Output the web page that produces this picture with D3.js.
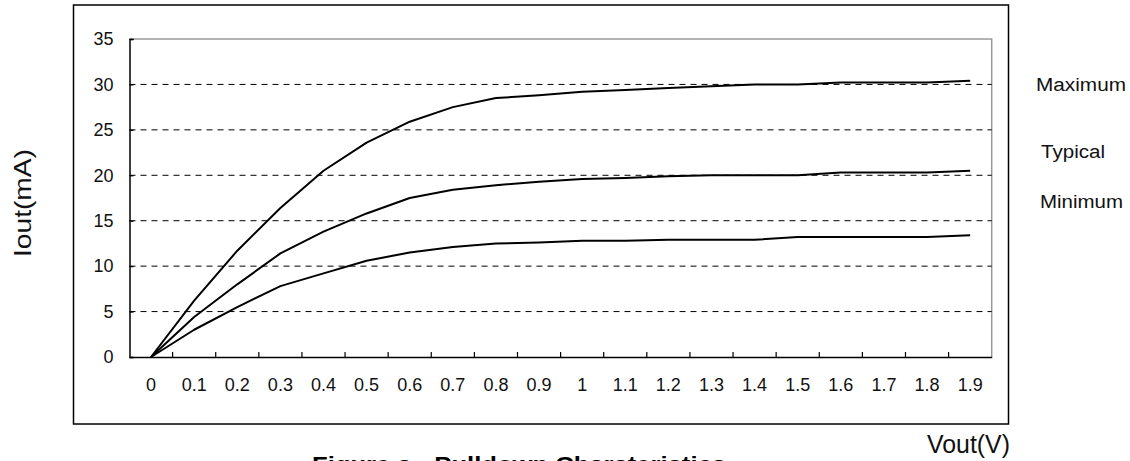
<!DOCTYPE html>
<html>
<head>
<meta charset="utf-8">
<script src="https://cdn.jsdelivr.net/npm/d3@7"></script>
<style>
  body { margin: 0; background: #fff; }
  svg { display: block; font-family: "Liberation Sans", Arial, sans-serif; }
</style>
</head>
<body>
<svg width="1130" height="461"></svg>
<script>
// Data
var vout = ["0", "0.1", "0.2", "0.3", "0.4", "0.5", "0.6", "0.7", "0.8", "0.9",
            "1", "1.1", "1.2", "1.3", "1.4", "1.5", "1.6", "1.7", "1.8", "1.9"];
var iMax = [0, 6.2, 11.7, 16.4, 20.5, 23.6, 25.9, 27.5, 28.5, 28.8,
            29.2, 29.4, 29.6, 29.8, 30.0, 30.0, 30.2, 30.2, 30.2, 30.4];
var iTyp = [0, 4.4, 8.0, 11.4, 13.8, 15.8, 17.5, 18.4, 18.9, 19.3,
            19.6, 19.7, 19.9, 20.0, 20.0, 20.0, 20.3, 20.3, 20.3, 20.5];
var iMin = [0, 3.0, 5.5, 7.8, 9.2, 10.6, 11.5, 12.1, 12.5, 12.6,
            12.8, 12.8, 12.9, 12.9, 12.9, 13.2, 13.2, 13.2, 13.2, 13.4];
var yTicks = [0, 5, 10, 15, 20, 25, 30, 35];
var seriesNames = ["Maximum", "Typical", "Minimum"];

var svg = d3.select("svg");

// plot area (don't call it "top", window.top is read-only)
var pLeft = 129.5, pRight = 991.7, pTop = 39, pBottom = 357;

var x = d3.scaleBand().domain(vout).range([pLeft, pRight]).padding(0);
var y = d3.scaleLinear().domain([0, 35]).range([pBottom, pTop]);

// outer frame
svg.append("rect")
    .attr("x", 73.5).attr("y", 5)
    .attr("width", 935).attr("height", 419)
    .attr("fill", "none")
    .attr("stroke", "#000")
    .attr("stroke-width", 1.5);

// top / right edges of plot area, grey
svg.append("path")
    .attr("d", `M${pLeft},${pTop}H${pRight}V${pBottom}`)
    .attr("fill", "none")
    .attr("stroke", "#999")
    .attr("stroke-width", 1.5);

// dashed gridlines
svg.append("g")
    .selectAll("line")
    .data(yTicks.filter(d => d > 0 && d < 35))
    .join("line")
        .attr("x1", pLeft).attr("x2", pRight)
        .attr("y1", d => y(d)).attr("y2", d => y(d))
        .attr("stroke", "#000")
        .attr("stroke-width", 1)
        .attr("stroke-dasharray", "6,5");

// y axis
var yAxis = svg.append("g")
    .attr("transform", `translate(${pLeft},0)`)
    .call(d3.axisLeft(y).tickValues(yTicks).tickSize(-4).tickPadding(16));
yAxis.select(".domain").attr("stroke", "#000").attr("stroke-width", 1.5);
yAxis.selectAll(".tick line").attr("stroke", "#000").attr("stroke-width", 1.2);
yAxis.selectAll(".tick text")
    .attr("font-size", 18)
    .attr("font-family", "Liberation Sans, Arial, sans-serif")
    .attr("fill", "#111");

// x axis: labels at band centres
var xAxis = svg.append("g")
    .attr("transform", `translate(0,${pBottom})`)
    .call(d3.axisBottom(x).tickSize(0).tickPadding(21));
xAxis.select(".domain").attr("stroke", "#000").attr("stroke-width", 1.5);
xAxis.selectAll(".tick text")
    .attr("font-size", 18)
    .attr("font-family", "Liberation Sans, Arial, sans-serif")
    .attr("fill", "#111");

// x tick marks at band boundaries, pointing up
svg.append("g")
    .selectAll("line")
    .data(vout.slice(1))
    .join("line")
        .attr("x1", d => x(d)).attr("x2", d => x(d))
        .attr("y1", pBottom).attr("y2", pBottom - 5)
        .attr("stroke", "#000")
        .attr("stroke-width", 1.2);

// curves
var line = d3.line()
    .x((d, i) => x(vout[i]) + x.bandwidth() / 2)
    .y(d => y(d));

svg.append("g")
    .selectAll("path")
    .data([iMax, iTyp, iMin])
    .join("path")
        .attr("d", line)
        .attr("fill", "none")
        .attr("stroke", "#000")
        .attr("stroke-width", 2)
        .attr("stroke-linejoin", "round");

// series labels on the right
var labelY = [91, 158, 208];
var labelX = [1036, 1041, 1040];
var labelW = [90, 64, 83];
svg.append("g")
    .selectAll("text")
    .data(seriesNames)
    .join("text")
        .attr("x", (d, i) => labelX[i])
        .attr("y", (d, i) => labelY[i])
        .attr("font-size", 18)
        .attr("textLength", (d, i) => labelW[i])
        .attr("lengthAdjust", "spacingAndGlyphs")
        .attr("fill", "#111")
        .text(d => d);

// axis titles
svg.append("text")
    .attr("transform", "translate(31,203) rotate(-90)")
    .attr("text-anchor", "middle")
    .attr("font-size", 24)
    .attr("textLength", 108)
    .attr("lengthAdjust", "spacingAndGlyphs")
    .attr("fill", "#111")
    .text("Iout(mA)");

svg.append("text")
    .attr("x", 927).attr("y", 453)
    .attr("font-size", 25)
    .attr("textLength", 83)
    .attr("lengthAdjust", "spacingAndGlyphs")
    .attr("fill", "#111")
    .text("Vout(V)");

// figure caption (cut off by the bottom edge)
svg.append("text")
    .attr("x", 312).attr("y", 472)
    .attr("font-size", 22)
    .attr("font-weight", "bold")
    .attr("textLength", 414)
    .attr("lengthAdjust", "spacingAndGlyphs")
    .attr("fill", "#000")
    .text("Figure a : Pulldown Charateristics");
</script>
</body>
</html>
